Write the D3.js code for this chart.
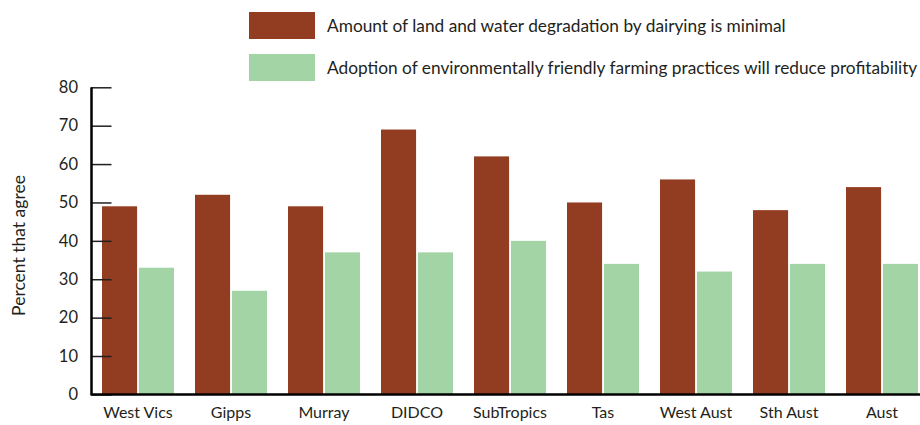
<!DOCTYPE html>
<html>
<head>
<meta charset="utf-8">
<script src="https://cdn.jsdelivr.net/npm/d3@7"></script>
<style>
  body { margin: 0; background: #fff; }
  svg text { font-family: Lato, "Open Sans", sans-serif; fill: #231f20; }
</style>
</head>
<body>
<div id="chart"></div>
<script>
// data
const regions = ["West Vics", "Gipps", "Murray", "DIDCO", "SubTropics", "Tas", "West Aust", "Sth Aust", "Aust"];
const seriesNames = [
    "Amount of land and water degradation by dairying is minimal",
    "Adoption of environmentally friendly farming practices will reduce profitability"
];
const degradationMinimal = [49, 52, 49, 69, 62, 50, 56, 48, 54];
const reduceProfit = [33, 27, 37, 37, 40, 34, 32, 34, 34];
const yTicks = [0, 10, 20, 30, 40, 50, 60, 70, 80];

const brown = "#923d22";
const green = "#a3d4a5";
const colors = [brown, green];

const width = 920;
const height = 425;
const margin = { left: 91.5, top: 87.3, right: 0, bottom: 30.6 };

const svg = d3.select("#chart")
    .append("svg")
    .attr("width", width)
    .attr("height", height);

const rows = regions.map((r, i) => ({
    region: r,
    values: [degradationMinimal[i], reduceProfit[i]]
}));

const x = d3.scaleBand()
    .domain(regions)
    .range([margin.left, margin.left + 837])
    .paddingInner(0.226)
    .paddingOuter(0.113);

const xSub = d3.scaleBand()
    .domain([0, 1])
    .range([0, x.bandwidth()])
    .paddingInner(0.05);

const y = d3.scaleLinear()
    .domain([0, 80])
    .range([height - margin.bottom, margin.top]);

// bars
const groups = svg.selectAll(".group")
    .data(rows)
    .join("g")
        .attr("class", "group")
        .attr("transform", d => `translate(${x(d.region)},0)`);

groups.selectAll("rect")
    .data(d => d.values.map((v, i) => ({ v, i })))
    .join("rect")
        .attr("x", d => xSub(d.i))
        .attr("y", d => y(d.v))
        .attr("width", xSub.bandwidth())
        .attr("height", d => y(0) - y(d.v))
        .attr("fill", d => colors[d.i]);

// y axis, ticks pointing inward
const yAxis = svg.append("g")
    .attr("transform", `translate(${margin.left},0)`)
    .call(d3.axisRight(y).tickValues(yTicks).tickSize(20).tickFormat(""));
yAxis.select(".domain").remove();
yAxis.selectAll(".tick line").attr("stroke", "#231f20").attr("stroke-width", 1.5);

svg.selectAll(".ylab")
    .data(yTicks)
    .join("text")
        .attr("class", "ylab")
        .attr("x", 78)
        .attr("y", d => y(d))
        .attr("dy", "0.35em")
        .attr("text-anchor", "end")
        .style("font-size", "16.5px")
        .text(d => d);

svg.append("line")
    .attr("x1", margin.left).attr("x2", margin.left)
    .attr("y1", y(80)).attr("y2", y(0) + 1)
    .attr("stroke", "#000").attr("stroke-width", 2.5);

svg.append("line")
    .attr("x1", margin.left).attr("x2", width)
    .attr("y1", y(0)).attr("y2", y(0))
    .attr("stroke", "#000").attr("stroke-width", 2.5);

// x labels
svg.selectAll(".xlab")
    .data(regions)
    .join("text")
        .attr("class", "xlab")
        .attr("x", d => x(d) + x.bandwidth() / 2)
        .attr("y", 418)
        .attr("text-anchor", "middle")
        .style("font-size", "16px")
        .text(d => d);

svg.append("text")
    .attr("transform", `translate(25,245.5) rotate(-90)`)
    .attr("text-anchor", "middle")
    .style("font-size", "17.5px")
    .text("Percent that agree");

// legend
const legend = svg.selectAll(".legend")
    .data(seriesNames)
    .join("g")
        .attr("class", "legend")
        .attr("transform", (d, i) => `translate(249,${12 + i * 42})`);

legend.append("rect")
    .attr("width", 66)
    .attr("height", 27)
    .attr("fill", (d, i) => colors[i]);

legend.append("text")
    .attr("x", 78)
    .attr("y", 14)
    .attr("dy", "0.35em")
    .style("font-size", "17.3px")
    .text(d => d);
</script>
</body>
</html>
